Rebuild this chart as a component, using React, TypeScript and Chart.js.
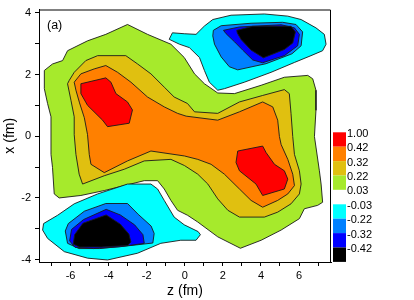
import React, { useEffect, useRef } from 'react';
import { Chart, registerables } from 'chart.js';

Chart.register(...registerables);

const FONT = '"Liberation Sans", Arial, Helvetica, sans-serif';

// Colour bar: level labels (top to bottom) and their fill colours
const levelLabels = ['1.00', '0.42', '0.32', '0.22', '0.03', '-0.03', '-0.22', '-0.32', '-0.42'];
const levelColors = ['#FF0000', '#FF8000', '#E0C010', '#A6EA2C', '#FFFFFF', '#00FFFF', '#0080FF', '#0000FF', '#000000'];

// Axis ranges (z horizontal, x vertical), in fm
const zRange = [-7.66, 7.68];
const xRange = [-4.075, 4.105];

// Contour polygons, vertices as [z, x] in fm
const green03 = [
  [-7.38, 2.13], [-6.95, 2.34], [-6.42, 2.45], [-6.16, 2.77], [-5.11, 3.09], [-4.15, 3.3], [-3.01, 3.62],
  [-1.96, 3.3], [-0.73, 2.98], [-0.03, 2.55], [0.51, 2.02], [1.03, 1.7], [1.73, 1.4], [2.61, 1.38],
  [4.01, 1.65], [5.23, 1.91], [6.46, 1.97], [6.72, 1.86], [6.89, 1.49], [6.89, 0.84], [6.81, -0.01],
  [7.07, -1.12], [7.16, -1.55], [7.24, -2.14], [6.98, -2.24], [6.28, -2.35], [6.02, -2.67], [5.06, -3.04],
  [4.01, -3.37], [2.92, -3.63], [1.73, -3.26], [0.68, -2.78], [0.14, -2.56], [-0.38, -2.4], [-0.73, -2.08],
  [-1.08, -1.71], [-1.43, -1.44], [-2.13, -1.44], [-3.18, -1.6], [-4.23, -1.76], [-5.46, -1.92],
  [-6.6, -2.0], [-6.86, -1.87], [-6.95, -1.01], [-7.03, -0.59], [-7.03, -0.01], [-7.03, 0.63],
  [-7.21, 1.06], [-7.38, 1.54],
];
const yellow22 = [
  [-6.07, 1.81], [-5.81, 2.07], [-5.2, 2.45], [-4.58, 2.61], [-3.1, 2.61], [-2.48, 2.34], [-1.78, 2.02],
  [-1.08, 1.59], [-0.56, 1.27], [0.14, 1.06], [0.51, 0.79], [1.73, 0.74], [2.87, 1.11], [4.09, 1.32],
  [5.23, 1.51], [5.49, 1.38], [5.58, 0.74], [5.67, -0.01], [5.76, -0.59], [6.02, -1.12], [6.11, -1.55],
  [6.02, -1.87], [5.58, -2.19], [4.88, -2.46], [4.18, -2.62], [2.87, -2.62], [2.26, -2.4], [1.73, -2.03],
  [1.21, -1.55], [0.68, -1.23], [-0.02, -0.95], [-0.73, -0.75], [-2.13, -0.8], [-3.18, -1.07],
  [-4.23, -1.28], [-5.37, -1.55], [-5.55, -1.23], [-5.72, -0.59], [-5.81, 0.05], [-5.81, 0.63],
  [-5.98, 1.16], [-6.16, 1.7],
];
const orange32 = [
  [-5.81, 1.75], [-5.46, 2.02], [-4.76, 2.18], [-4.15, 2.29], [-3.53, 2.07], [-2.83, 1.75], [-1.96, 1.27],
  [-1.08, 0.95], [-0.38, 0.74], [0.07, 0.65], [1.73, 0.52], [2.87, 0.79], [4.09, 1.11], [4.62, 0.95],
  [4.88, 0.52], [4.97, -0.01], [5.06, -0.27], [5.41, -0.75], [5.67, -1.23], [5.76, -1.6], [5.41, -1.87],
  [4.88, -2.08], [4.09, -2.3], [3.48, -2.08], [2.87, -1.71], [2.08, -1.23], [1.38, -0.91], [0.68, -0.75],
  [-0.02, -0.64], [-1.78, -0.48], [-3.01, -0.8], [-4.23, -1.18], [-4.93, -0.91], [-5.02, -0.59],
  [-5.11, 0.05], [-5.28, 0.6], [-5.53, 1.08], [-5.72, 1.49],
];
const redLeft = [
  [-5.46, 1.7], [-4.15, 1.89], [-3.88, 1.75], [-3.62, 1.38], [-3.01, 1.11], [-2.75, 0.85], [-2.92, 0.42],
  [-4.06, 0.31], [-4.32, 0.52], [-5.11, 1.0], [-5.46, 1.38],
];
const redRight = [
  [2.78, -0.48], [4.09, -0.32], [4.27, -0.53], [4.71, -0.91], [5.23, -1.12], [5.41, -1.39], [5.23, -1.71],
  [4.09, -1.92], [3.74, -1.55], [2.87, -1.12], [2.69, -0.85],
];
const cyanTop = [
  [-0.82, 3.14], [-0.65, 3.35], [-0.03, 3.32], [0.59, 3.3], [1.03, 3.57], [1.47, 3.78], [2.43, 3.92],
  [4.18, 3.96], [5.41, 3.89], [6.11, 3.78], [6.89, 3.51], [7.33, 3.3], [7.42, 2.98], [7.24, 2.77],
  [6.63, 2.61], [5.76, 2.39], [4.53, 2.07], [3.13, 1.75], [2.08, 1.54], [1.73, 1.49], [1.29, 1.75],
  [1.03, 2.13], [0.77, 2.55], [0.24, 2.87], [-0.28, 2.98],
];
const blueTop = [
  [1.5, 3.43], [1.91, 3.58], [3.48, 3.66], [5.14, 3.69], [5.84, 3.62], [6.19, 3.38], [6.11, 2.93],
  [5.63, 2.67], [4.27, 2.35], [2.78, 2.15], [2.34, 2.25], [1.91, 2.57], [1.56, 2.98], [1.47, 3.25],
];
const deepBlueTop = [
  [2.03, 3.43], [2.87, 3.54], [5.06, 3.61], [5.76, 3.51], [6.02, 3.3], [5.93, 2.93], [5.23, 2.61],
  [4.09, 2.38], [3.57, 2.47], [3.04, 2.79], [2.61, 3.06], [2.17, 3.32],
];
const blackTop = [
  [2.73, 3.43], [3.57, 3.56], [5.58, 3.56], [5.81, 3.38], [5.67, 3.02], [5.23, 2.81], [4.13, 2.54],
  [3.48, 2.79], [2.96, 3.13], [2.76, 3.34],
];
const cyanBottom = [
  [-7.42, -2.83], [-6.68, -2.56], [-5.81, -2.19], [-4.58, -1.87], [-3.01, -1.55], [-1.78, -1.55],
  [-1.43, -1.71], [-1.08, -2.08], [-0.56, -2.62], [-0.03, -2.87], [0.7, -3.09], [0.82, -3.19],
  [0.59, -3.37], [-0.21, -3.37], [-1.26, -3.47], [-2.48, -3.79], [-4.06, -4.01], [-5.11, -3.95],
  [-6.33, -3.74], [-7.21, -3.31], [-7.47, -3.04],
];
const blueBottom = [
  [-6.28, -3.07], [-6.12, -2.83], [-5.28, -2.43], [-4.15, -2.18], [-3.01, -2.18], [-2.45, -2.53],
  [-1.77, -2.91], [-1.61, -3.15], [-1.68, -3.46], [-2.83, -3.54], [-4.48, -3.64], [-5.56, -3.64],
  [-6.16, -3.47],
];
const deepBlueBottom = [
  [-6.05, -3.39], [-5.95, -3.02], [-5.32, -2.7], [-4.13, -2.37], [-3.39, -2.55], [-2.64, -2.87],
  [-2.2, -3.19], [-2.13, -3.47], [-3.39, -3.58], [-4.79, -3.64], [-5.77, -3.6],
];
const blackBottom = [
  [-5.86, -3.5], [-5.79, -3.19], [-5.35, -2.82], [-4.13, -2.55], [-3.39, -2.85], [-2.94, -3.17],
  [-2.83, -3.43], [-3.01, -3.54], [-4.39, -3.59], [-5.53, -3.59],
];

// back-to-front drawing order with colour index into levelColors
const layers: [number[][], number][] = [
  [green03, 3], [yellow22, 2], [orange32, 1], [redLeft, 0], [redRight, 0],
  [cyanTop, 5], [blueTop, 6], [deepBlueTop, 7], [blackTop, 8],
  [cyanBottom, 5], [blueBottom, 6], [deepBlueBottom, 7], [blackBottom, 8],
];

const decorPlugin = {
  id: 'decor',
  afterDraw(chart: any) {
    const { ctx, chartArea: a } = chart;
    ctx.save();
    // frame top and right
    ctx.strokeStyle = '#000';
    ctx.lineWidth = 1;
    ctx.beginPath();
    ctx.moveTo(a.left, a.top + 0.5);
    ctx.lineTo(a.right - 0.5, a.top + 0.5);
    ctx.lineTo(a.right - 0.5, a.bottom);
    ctx.stroke();
    // panel label
    ctx.fillStyle = '#000';
    ctx.font = `12.5px ${FONT}`;
    ctx.textBaseline = 'middle';
    ctx.textAlign = 'left';
    ctx.fillText('(a)', a.left + 8, a.top + 16);
    // colour bar
    const barX = a.right + 2;
    const barW = 13;
    const barTop = 132.3;
    const slot = 14.4;
    levelColors.forEach((c, i) => {
      ctx.fillStyle = c;
      ctx.fillRect(barX, barTop + i * slot, barW, slot);
    });
    ctx.fillStyle = '#000';
    ctx.font = `11px ${FONT}`;
    levelLabels.forEach((t, i) => {
      ctx.fillText(t, barX + barW + 1, barTop + i * slot + 1.5);
    });
    ctx.restore();
  },
};

export default function App() {
  const ref = useRef<HTMLCanvasElement>(null);
  useEffect(() => {
    if (!ref.current) return;
    const datasets = layers
      .map(([poly, ci]) => ({
        type: 'line' as const,
        data: [...poly, poly[0]].map(([z, x]) => ({ x: z, y: x })),
        borderColor: '#1a1a1a',
        borderWidth: 0.9,
        backgroundColor: levelColors[ci],
        fill: 'shape',
        pointRadius: 0,
        tension: 0,
      }))
      .reverse();
    const chart = new Chart(ref.current, {
      type: 'line',
      data: { datasets: datasets as any },
      options: {
        animation: false,
        responsive: false,
        events: [],
        layout: { padding: { left: 0, top: 5.7, right: 83, bottom: 0 } },
        plugins: { legend: { display: false }, tooltip: { enabled: false } },
        scales: {
          x: {
            type: 'linear',
            min: zRange[0],
            max: zRange[1],
            ticks: {
              stepSize: 1,
              includeBounds: false,
              autoSkip: false,
              maxRotation: 0,
              padding: 3,
              color: '#000',
              font: { family: FONT, size: 11 },
              callback: (v: any) => (Math.abs(Math.round(v)) % 2 === 0 ? String(Math.round(v)) : ''),
            },
            grid: { drawOnChartArea: false, drawTicks: true, tickLength: 4, color: '#000' },
            border: { display: true, color: '#000', width: 1 },
            title: {
              display: true,
              text: 'z (fm)',
              color: '#000',
              font: { family: FONT, size: 14 },
              padding: { top: 0, bottom: 0 },
            },
            afterFit: (s: any) => { s.height = 38; },
          },
          y: {
            type: 'linear',
            min: xRange[0],
            max: xRange[1],
            ticks: {
              stepSize: 1,
              includeBounds: false,
              autoSkip: false,
              padding: 4,
              color: '#000',
              font: { family: FONT, size: 11, lineHeight: 1 },
              callback: (v: any) => (Math.abs(Math.round(v)) % 2 === 0 ? String(Math.round(v)) : ''),
            },
            grid: { drawOnChartArea: false, drawTicks: true, tickLength: 4, color: '#000' },
            border: { display: true, color: '#000', width: 1 },
            title: {
              display: true,
              text: 'x (fm)',
              color: '#000',
              font: { family: FONT, size: 14 },
              padding: { top: 2, bottom: 0 },
            },
            afterFit: (s: any) => { s.width = 39; },
          },
        },
      } as any,
      plugins: [decorPlugin],
    });
    return () => chart.destroy();
  }, []);
  return (
    <div style={{ position: 'fixed', left: 0, top: 0, width: 414, height: 300, background: '#fff' }}>
      <canvas ref={ref} width={414} height={300} style={{ display: 'block' }} />
    </div>
  );
}
